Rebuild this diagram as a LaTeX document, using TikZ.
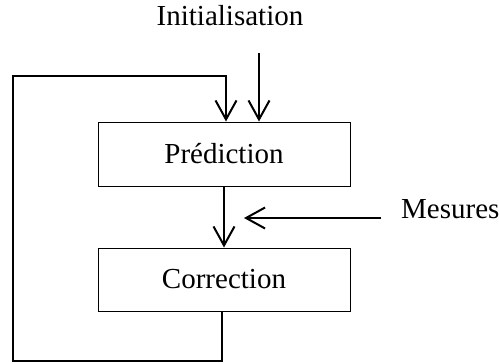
\documentclass[tikz,border=0pt]{standalone}
\usepackage{fontspec}
\setmainfont{Liberation Serif}
\usetikzlibrary{arrows.meta}
\begin{document}
\begin{tikzpicture}[x=1pt,y=-1pt,
  blk/.style={draw,line width=1pt,minimum width=252pt,inner sep=0pt,font=\fontsize{29}{34}\selectfont},
  lbl/.style={inner sep=0pt,font=\fontsize{29}{34}\selectfont},
  arr/.style={line width=2pt,-{Straight Barb[length=19pt,width=21pt,line width=2pt]}}]
\useasboundingbox (0,0) rectangle (499,364);
\node[blk,minimum height=64pt] (pred) at (224,154) {Prédiction};
\node[blk,minimum height=63pt] (corr) at (224,279.5) {Correction};
\node[lbl,anchor=base] (init) at (230,25) {Initialisation};
\node[lbl,anchor=base west] (mes) at (401,218) {Mesures};
\coordinate (istart) at (259,53);
\coordinate (mstart) at (381,218);
\coordinate (mend) at (244,218);
\draw[arr] (istart) -- (istart |- pred.north);
\draw[arr] (pred.south) -- (corr.north);
\draw[arr] (mstart) -- (mend);
\draw[arr,line width=2.2pt] (corr.south -| 222,0) -- (222,361) -- (13,361) -- (13,76) -- (226,76) -- (pred.north -| 226,0);
\end{tikzpicture}
\end{document}
